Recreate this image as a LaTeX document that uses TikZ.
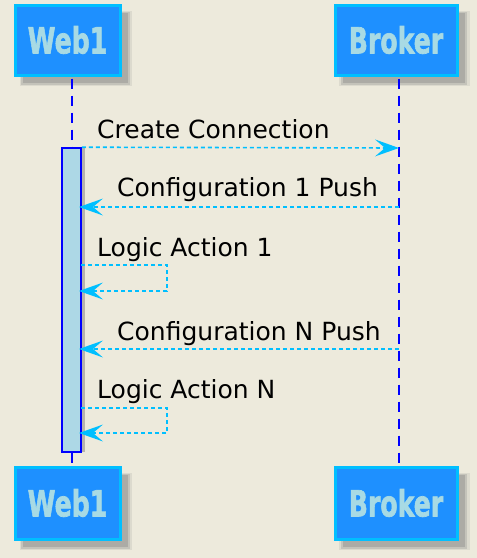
\documentclass[tikz,border=0pt]{standalone}
\usepackage{fontspec}
\usepackage{graphicx}
\setmainfont{DejaVu Sans}
\newfontfamily\boxfont{DejaVu Sans}[UprightFeatures={FakeBold=2}, BoldFeatures={FakeBold=2}]
\usetikzlibrary{arrows.meta,shadows}
\definecolor{bg}{HTML}{EDEADC}
\definecolor{boxfill}{HTML}{1E90FF}
\definecolor{boxline}{HTML}{00BFFF}
\definecolor{boxtext}{HTML}{A8DAE4}
\definecolor{lifeblue}{HTML}{0000FF}
\definecolor{msg}{HTML}{00BFFF}
\definecolor{actfill}{HTML}{ADD8E6}
\tikzset{msgtip/.tip={Stealth[length=24pt, width=17pt, inset=10pt, line width=0pt]}}
\begin{document}
\begin{tikzpicture}[x=1pt,y=-1pt,
  participant/.style={rectangle, fill=boxfill, draw=boxline, line width=3pt,
    minimum height=70pt, inner sep=0pt, text=boxtext,
    font=\boxfont\bfseries\fontsize{36}{36}\selectfont,
    drop shadow={shadow xshift=8pt, shadow yshift=-8pt, opacity=0.15, shadow scale=1.07},
    drop shadow={shadow xshift=8pt, shadow yshift=-8pt, opacity=0.25, shadow scale=1.035},
    drop shadow={shadow xshift=8pt, shadow yshift=-8pt, opacity=0.35, shadow scale=1.0}},
  lifeline/.style={draw=lifeblue, line width=1.6pt, dash pattern=on 10pt off 7pt},
  actbar/.style={draw=lifeblue, fill=actfill, line width=1.6pt, inner sep=0pt,
    drop shadow={shadow xshift=4pt, shadow yshift=0pt, opacity=0.5}},
  msgline/.style={draw=msg, line width=1.6pt, dash pattern=on 4pt off 3pt, arrows={-msgtip}},
  msglabel/.style={anchor=base west, inner sep=0pt, font=\fontsize{25}{25}\selectfont, text=black}
]
\fill[bg] (0,0) rectangle (477,558);
\useasboundingbox (0,0) rectangle (477,558);

% participants
\node[participant, minimum width=105pt] (w1t) at (67.5,40) {\scalebox{0.7}[1]{Web1}};
\node[participant, minimum width=122pt] (brt) at (396,40) {\scalebox{0.7}[1]{Broker}};
\node[participant, minimum width=105pt, minimum height=72pt] (w1b) at (67.5,503) {\scalebox{0.7}[1]{Web1}};
\node[participant, minimum width=122pt, minimum height=72pt] (brb) at (396,503) {\scalebox{0.7}[1]{Broker}};

% lifelines
\draw[lifeline] ([xshift=4.5pt,yshift=-2pt]w1t.south) -- ([xshift=4.5pt,yshift=2pt]w1b.north);
\draw[lifeline] ([xshift=3pt,yshift=-2pt]brt.south) -- ([xshift=3pt,yshift=2pt]brb.north);

% activation bar
\node[actbar, minimum width=19pt, minimum height=304pt] (act) at (71.5,300) {};

% coordinates
\coordinate (b1) at (399,148);
\coordinate (b2) at (399,207);
\coordinate (b3) at (399,349);
\coordinate (a2) at (79,207);
\coordinate (a3) at (79,349);
\coordinate (s1a) at (81,265);
\coordinate (s1b) at (79,291);
\coordinate (s2a) at (81,408);
\coordinate (s2b) at (79,433);

% messages
\draw[msgline] (act.north east) -- (b1);
\node[msglabel] (l1) at (97,138) {Create Connection};

\draw[msgline] (b2) -- (a2);
\node[msglabel] (l2) at (117,196) {Configuration 1 Push};

\draw[msgline] (s1a) -- ++(86,0) |- (s1b);
\node[msglabel] (l3) at (97,256) {Logic Action 1};

\draw[msgline] (b3) -- (a3);
\node[msglabel] (l4) at (117,340) {Configuration N Push};

\draw[msgline] (s2a) -- ++(86,0) |- (s2b);
\node[msglabel] (l5) at (97,398) {Logic Action N};
\end{tikzpicture}
\end{document}
